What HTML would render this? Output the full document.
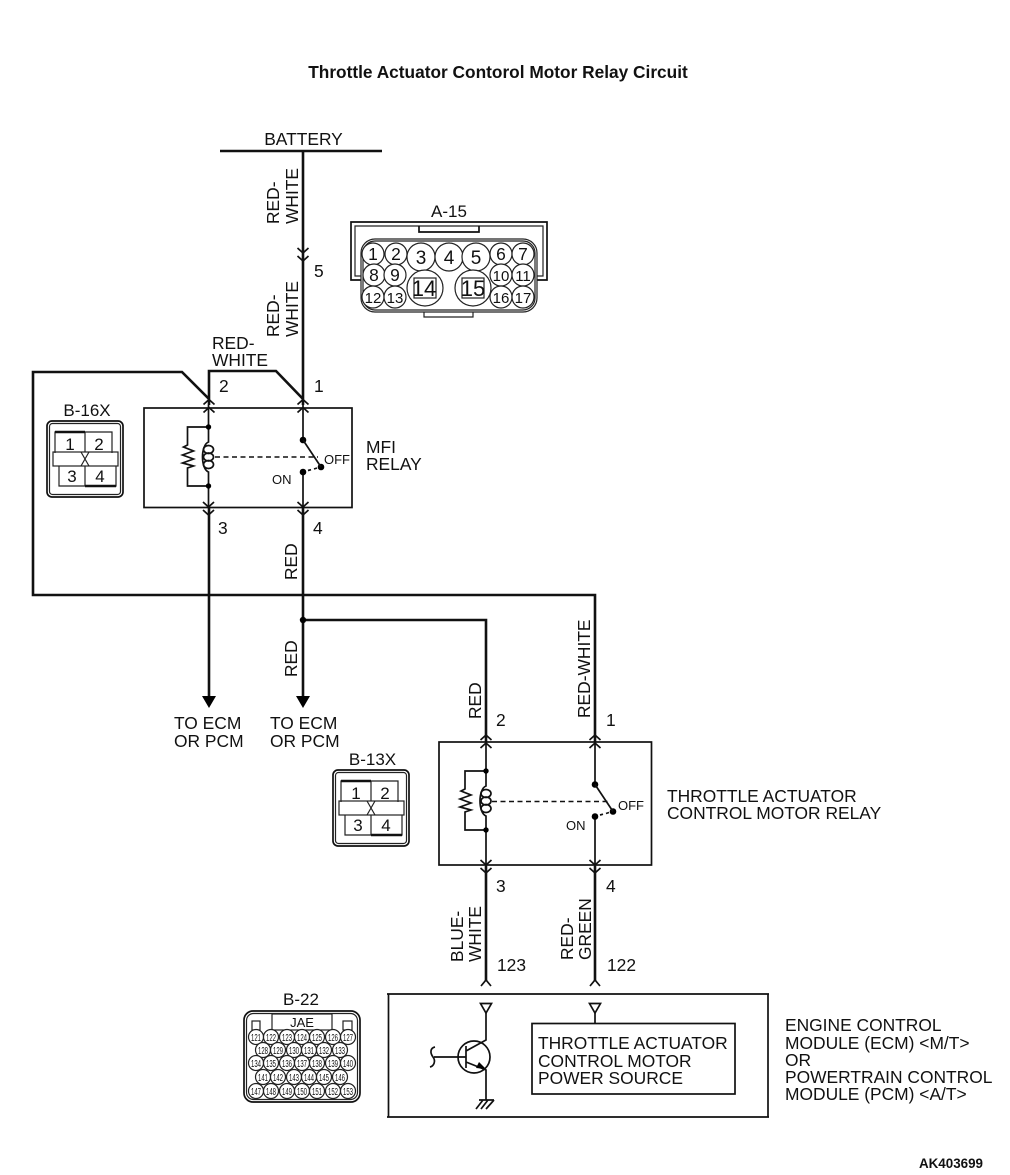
<!DOCTYPE html>
<html><head><meta charset="utf-8"><style>
html,body{margin:0;padding:0;background:#fff}
svg{display:block}
text{font-family:"Liberation Sans",sans-serif;font-size:17.4px;fill:#111}
.w{fill:none;stroke:#111;stroke-width:2.6}
.l{fill:none;stroke:#111;stroke-width:1.7}
.t{fill:none;stroke:#222;stroke-width:1.2}
.c{fill:#fff;stroke:#222;stroke-width:1.2}
.p text,.q text{text-anchor:middle}
.q text{font-size:10px}
</style></head><body>
<svg width="1010" height="1175" viewBox="0 0 1010 1175" xmlns="http://www.w3.org/2000/svg">
<defs>
<g id="up"><path class="l" d="M-5.500 5L0 0L5.500 5M-5.500 13L0 8L5.500 13"/></g>
<g id="dn"><path class="l" d="M-5.500 -5L0 0L5.500 -5M-5.500 3L0 8L5.500 3"/></g>
<g id="conn">
<rect x="47" y="421" width="76" height="76" rx="5" class="l"/>
<rect x="49.500" y="423.500" width="71" height="71" rx="3" class="t"/>
<path class="t" d="M55 453V432H112V453M59 466V486H116V466M85 432V452M85 466V486"/>
<path d="M55 432H85M85 486H116" fill="none" stroke="#111" stroke-width="2.6"/>
<rect x="53" y="452" width="65" height="14" class="t"/>
<path class="t" d="M81 452L89 466M89 452L81 466"/>
</g>
<g id="coil">
<path class="l" d="M0 19H-21V37L-25 39L-15 43L-26 47L-15 51L-26 55L-15 58L-21 60V78H0"/>
<path class="l" d="M0 19V34C-8 37 -8 61 0 64V78"/>
<ellipse cx="0" cy="41.500" rx="5" ry="4" class="l"/>
<ellipse cx="0" cy="49" rx="5" ry="4" class="l"/>
<ellipse cx="0" cy="56.500" rx="5" ry="4" class="l"/>
<circle cx="0" cy="19" r="2.700"/><circle cx="0" cy="78" r="2.700"/>
</g>
<g id="sw">
<circle cx="0" cy="0" r="3.300"/><circle cx="0" cy="32" r="3.300"/><circle cx="18" cy="27" r="3.300"/>
<path class="l" d="M0 0L18 27M5 30.500L8 29.700M11 29L14 28"/>
</g>
</defs>

<text x="498" y="78" text-anchor="middle" style="font-size:15px;font-weight:bold;font-size:17.3px">Throttle Actuator Contorol Motor Relay Circuit</text>
<text x="303.500" y="145">
</text>
<text x="303.500" y="145" text-anchor="middle">BATTERY</text>
<path class="w" d="M220 151H382M303 151V405"/>
<use href="#dn" x="303" y="253"/>
<text transform="translate(279,224) rotate(-90)">RED-</text>
<text transform="translate(298,224) rotate(-90)">WHITE</text>
<text transform="translate(279,337) rotate(-90)">RED-</text>
<text transform="translate(298,337) rotate(-90)">WHITE</text>
<text x="314" y="277">5</text>
<text x="212" y="349">RED-</text>
<text x="212" y="366">WHITE</text>

<path class="w" d="M303 399L276 371H209V405M209 399L182 372H33V595H595V742"/>
<text x="219" y="392">2</text><text x="314" y="392">1</text>
<use href="#up" x="209" y="399.500"/><use href="#up" x="303" y="399.500"/>
<rect x="144" y="408" width="208" height="99.500" class="l"/>
<path class="l" d="M208.500 405V427M208.500 486V508M303 405V440M303 472V508"/>
<g transform="translate(208.500,408)"><use href="#coil"/></g>
<path d="M215 457H318" fill="none" stroke="#111" stroke-width="1.5" stroke-dasharray="5 3.500"/>
<g transform="translate(303,440)"><use href="#sw"/></g>
<text x="324" y="464" style="font-size:13px">OFF</text>
<text x="272" y="484" style="font-size:13px">ON</text>
<text x="366" y="453">MFI</text><text x="366" y="470">RELAY</text>
<use href="#dn" x="208.500" y="507"/><use href="#dn" x="303" y="507"/>
<text x="218" y="534">3</text><text x="313" y="534">4</text>
<path class="w" d="M209 508V697M303 508V697M303 620H486V742"/>
<circle cx="303" cy="620" r="3.200"/>
<path d="M202 696H216L209 708ZM296 696H310L303 708Z"/>
<text transform="translate(297,580) rotate(-90)">RED</text>
<text transform="translate(297,677) rotate(-90)">RED</text>
<text x="174" y="729">TO ECM</text><text x="174" y="747">OR PCM</text>
<text x="270" y="729">TO ECM</text><text x="270" y="747">OR PCM</text>

<text transform="translate(481,719) rotate(-90)">RED</text>
<text transform="translate(590,718) rotate(-90)">RED-WHITE</text>
<text x="496" y="726">2</text><text x="606" y="726">1</text>
<use href="#up" x="486" y="735"/><use href="#up" x="595" y="735"/>
<rect x="439" y="742" width="212.500" height="123" class="l"/>
<path class="l" d="M486 742V771M486 830V866M595 742V784M595 816V866"/>
<g transform="translate(486,752)"><use href="#coil"/></g>
<path d="M492 801.500H608" fill="none" stroke="#111" stroke-width="1.5" stroke-dasharray="5 3.500"/>
<g transform="translate(595,784.500)"><use href="#sw"/></g>
<text x="618" y="810" style="font-size:13px">OFF</text>
<text x="566" y="830" style="font-size:13px">ON</text>
<text x="667" y="802">THROTTLE ACTUATOR</text><text x="667" y="819">CONTROL MOTOR RELAY</text>
<use href="#dn" x="486" y="865"/><use href="#dn" x="595" y="865"/>
<path class="w" d="M486 866V981M595 866V981"/>
<text x="496" y="892">3</text><text x="606" y="892">4</text>
<text transform="translate(463,962) rotate(-90)">BLUE-</text>
<text transform="translate(481,962) rotate(-90)">WHITE</text>
<text transform="translate(573,960) rotate(-90)">RED-</text>
<text transform="translate(591,960) rotate(-90)">GREEN</text>
<text x="497" y="971">123</text><text x="607" y="971">122</text>
<path class="l" d="M481 986L486 980L491 986M590 986L595 980L600 986"/>

<path class="l" d="M387 994H769M388.500 994V1117M768 994V1117M387 1117H769"/>
<path class="l" d="M480.500 1003.500H491.500L486 1013ZM589.500 1003.500H600.500L595 1013Z"/>
<path class="l" d="M486 1013V1040L466 1051M466 1062L486 1070V1100M595 1013V1023M434 1057H466M466 1046V1068"/>
<path d="M486 1069L476 1068L479 1062Z"/>
<circle cx="474" cy="1057" r="16" class="l"/>
<path class="l" d="M435 1047C430 1048 430 1053 433 1057C436 1061 434 1066 430 1067"/>
<path class="l" d="M479 1100H494M483 1100L476 1109M488 1100L481 1109M494 1100L486 1109"/>
<rect x="532" y="1023.500" width="203" height="70.500" class="l"/>
<text x="538" y="1049">THROTTLE ACTUATOR</text>
<text x="538" y="1067">CONTROL MOTOR</text>
<text x="538" y="1084">POWER SOURCE</text>
<text x="785" y="1031">ENGINE CONTROL</text>
<text x="785" y="1049">MODULE (ECM) &lt;M/T&gt;</text>
<text x="785" y="1066">OR</text>
<text x="785" y="1083">POWERTRAIN CONTROL</text>
<text x="785" y="1100">MODULE (PCM) &lt;A/T&gt;</text>
<text x="983" y="1168" text-anchor="end" style="font-size:13.400px;font-weight:bold">AK403699</text>

<text x="87" y="416" text-anchor="middle" style="font-size:17px">B-16X</text>
<use href="#conn"/>
<g class="p">
<text x="70" y="450" style="font-size:17px">1</text><text x="99" y="450" style="font-size:17px">2</text>
<text x="72" y="482" style="font-size:17px">3</text><text x="100" y="482" style="font-size:17px">4</text>
</g>
<text x="372.500" y="765" text-anchor="middle" style="font-size:17px">B-13X</text>
<use href="#conn" x="286" y="349"/>
<g class="p">
<text x="356" y="799" style="font-size:17px">1</text><text x="385" y="799" style="font-size:17px">2</text>
<text x="358" y="831" style="font-size:17px">3</text><text x="386" y="831" style="font-size:17px">4</text>
</g>

<text x="449" y="217" text-anchor="middle" style="font-size:17px">A-15</text>
<path class="l" d="M361 280H351V222H547V280H537"/>
<path class="t" d="M361 276H355V226H543V276H537"/>
<path class="l" d="M419 226V232H479V226"/>
<rect x="361" y="239" width="176" height="73" rx="14" fill="#fff" stroke="#222" stroke-width="1.2"/>
<rect x="363" y="241" width="172" height="69" rx="12" class="t"/>
<path class="t" d="M424 312V317H473V312"/>
<g class="p">
<circle cx="373" cy="254" r="11" class="c"/><text x="373" y="260">1</text>
<circle cx="396" cy="254" r="11" class="c"/><text x="396" y="260">2</text>
<circle cx="501" cy="254" r="11" class="c"/><text x="501" y="260">6</text>
<circle cx="523" cy="254" r="11" class="c"/><text x="523" y="260">7</text>
<circle cx="374" cy="275" r="11" class="c"/><text x="374" y="281">8</text>
<circle cx="395" cy="275" r="11" class="c"/><text x="395" y="281">9</text>
<circle cx="501" cy="275" r="11" class="c"/><text x="501" y="281" style="font-size:15px">10</text>
<circle cx="523" cy="275" r="11" class="c"/><text x="523" y="281" style="font-size:15px">11</text>
<circle cx="373" cy="297" r="11" class="c"/><text x="373" y="303" style="font-size:15px">12</text>
<circle cx="395" cy="297" r="11" class="c"/><text x="395" y="303" style="font-size:15px">13</text>
<circle cx="501" cy="297" r="11" class="c"/><text x="501" y="303" style="font-size:15px">16</text>
<circle cx="523" cy="297" r="11" class="c"/><text x="523" y="303" style="font-size:15px">17</text>
<circle cx="421" cy="257" r="14" class="c"/><text x="421" y="264" style="font-size:19px">3</text>
<circle cx="449" cy="257" r="14" class="c"/><text x="449" y="264" style="font-size:19px">4</text>
<circle cx="476" cy="257" r="14" class="c"/><text x="476" y="264" style="font-size:19px">5</text>
<circle cx="425" cy="288" r="18" class="c"/><rect x="414" y="278" width="22" height="20" class="t"/><text x="424" y="296" style="font-size:22px">14</text>
<circle cx="473" cy="288" r="18" class="c"/><rect x="462" y="278" width="22" height="20" class="t"/><text x="473" y="296" style="font-size:22px">15</text>
</g>

<text x="301" y="1005" text-anchor="middle" style="font-size:17px">B-22</text>
<rect x="244" y="1011" width="116" height="91" rx="9" class="l"/>
<rect x="246.500" y="1013.500" width="111" height="86" rx="7" class="t"/>
<rect x="272" y="1014" width="60" height="16" class="t"/>
<text x="302" y="1027" text-anchor="middle" style="font-size:13px">JAE</text>
<rect x="252" y="1021" width="8" height="9" class="t"/><rect x="343" y="1021" width="9" height="9" class="t"/>
<g class="q">
<circle cx="256" cy="1037" r="7.500" class="c"/><text x="256" y="1041" textLength="10" lengthAdjust="spacingAndGlyphs">121</text>
<circle cx="271" cy="1037" r="7.500" class="c"/><text x="271" y="1041" textLength="10" lengthAdjust="spacingAndGlyphs">122</text>
<circle cx="287" cy="1037" r="7.500" class="c"/><text x="287" y="1041" textLength="10" lengthAdjust="spacingAndGlyphs">123</text>
<circle cx="302" cy="1037" r="7.500" class="c"/><text x="302" y="1041" textLength="10" lengthAdjust="spacingAndGlyphs">124</text>
<circle cx="317" cy="1037" r="7.500" class="c"/><text x="317" y="1041" textLength="10" lengthAdjust="spacingAndGlyphs">125</text>
<circle cx="333" cy="1037" r="7.500" class="c"/><text x="333" y="1041" textLength="10" lengthAdjust="spacingAndGlyphs">126</text>
<circle cx="348" cy="1037" r="7.500" class="c"/><text x="348" y="1041" textLength="10" lengthAdjust="spacingAndGlyphs">127</text>
<circle cx="263" cy="1050" r="7.500" class="c"/><text x="263" y="1054" textLength="10" lengthAdjust="spacingAndGlyphs">128</text>
<circle cx="278" cy="1050" r="7.500" class="c"/><text x="278" y="1054" textLength="10" lengthAdjust="spacingAndGlyphs">129</text>
<circle cx="294" cy="1050" r="7.500" class="c"/><text x="294" y="1054" textLength="10" lengthAdjust="spacingAndGlyphs">130</text>
<circle cx="309" cy="1050" r="7.500" class="c"/><text x="309" y="1054" textLength="10" lengthAdjust="spacingAndGlyphs">131</text>
<circle cx="324" cy="1050" r="7.500" class="c"/><text x="324" y="1054" textLength="10" lengthAdjust="spacingAndGlyphs">132</text>
<circle cx="340" cy="1050" r="7.500" class="c"/><text x="340" y="1054" textLength="10" lengthAdjust="spacingAndGlyphs">133</text>
<circle cx="256" cy="1063" r="7.500" class="c"/><text x="256" y="1067" textLength="10" lengthAdjust="spacingAndGlyphs">134</text>
<circle cx="271" cy="1063" r="7.500" class="c"/><text x="271" y="1067" textLength="10" lengthAdjust="spacingAndGlyphs">135</text>
<circle cx="287" cy="1063" r="7.500" class="c"/><text x="287" y="1067" textLength="10" lengthAdjust="spacingAndGlyphs">136</text>
<circle cx="302" cy="1063" r="7.500" class="c"/><text x="302" y="1067" textLength="10" lengthAdjust="spacingAndGlyphs">137</text>
<circle cx="317" cy="1063" r="7.500" class="c"/><text x="317" y="1067" textLength="10" lengthAdjust="spacingAndGlyphs">138</text>
<circle cx="333" cy="1063" r="7.500" class="c"/><text x="333" y="1067" textLength="10" lengthAdjust="spacingAndGlyphs">139</text>
<circle cx="348" cy="1063" r="7.500" class="c"/><text x="348" y="1067" textLength="10" lengthAdjust="spacingAndGlyphs">140</text>
<circle cx="263" cy="1077" r="7.500" class="c"/><text x="263" y="1081" textLength="10" lengthAdjust="spacingAndGlyphs">141</text>
<circle cx="278" cy="1077" r="7.500" class="c"/><text x="278" y="1081" textLength="10" lengthAdjust="spacingAndGlyphs">142</text>
<circle cx="294" cy="1077" r="7.500" class="c"/><text x="294" y="1081" textLength="10" lengthAdjust="spacingAndGlyphs">143</text>
<circle cx="309" cy="1077" r="7.500" class="c"/><text x="309" y="1081" textLength="10" lengthAdjust="spacingAndGlyphs">144</text>
<circle cx="324" cy="1077" r="7.500" class="c"/><text x="324" y="1081" textLength="10" lengthAdjust="spacingAndGlyphs">145</text>
<circle cx="340" cy="1077" r="7.500" class="c"/><text x="340" y="1081" textLength="10" lengthAdjust="spacingAndGlyphs">146</text>
<circle cx="256" cy="1091" r="7.500" class="c"/><text x="256" y="1095" textLength="10" lengthAdjust="spacingAndGlyphs">147</text>
<circle cx="271" cy="1091" r="7.500" class="c"/><text x="271" y="1095" textLength="10" lengthAdjust="spacingAndGlyphs">148</text>
<circle cx="287" cy="1091" r="7.500" class="c"/><text x="287" y="1095" textLength="10" lengthAdjust="spacingAndGlyphs">149</text>
<circle cx="302" cy="1091" r="7.500" class="c"/><text x="302" y="1095" textLength="10" lengthAdjust="spacingAndGlyphs">150</text>
<circle cx="317" cy="1091" r="7.500" class="c"/><text x="317" y="1095" textLength="10" lengthAdjust="spacingAndGlyphs">151</text>
<circle cx="333" cy="1091" r="7.500" class="c"/><text x="333" y="1095" textLength="10" lengthAdjust="spacingAndGlyphs">152</text>
<circle cx="348" cy="1091" r="7.500" class="c"/><text x="348" y="1095" textLength="10" lengthAdjust="spacingAndGlyphs">153</text>
</g>
</svg>
</body></html>
